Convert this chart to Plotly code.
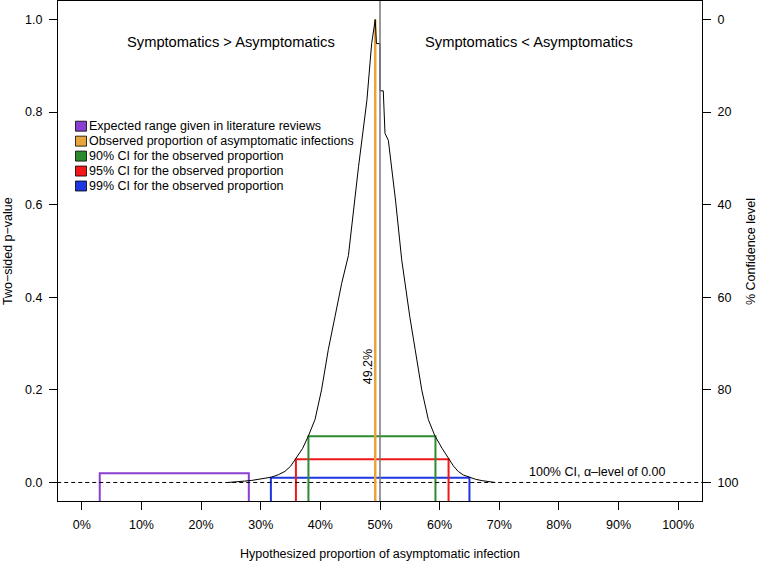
import plotly.graph_objects as go

# ---- data ----
hyp_pct = [24.5, 26.0, 27.3, 28.5, 29.6, 30.8, 31.8, 33.0, 34.06, 35.0, 35.9, 37.0, 37.97, 39.1,
           40.2, 41.33, 42.45, 43.57, 44.7, 46.4, 47.8, 48.6, 49.2, 49.4, 50.0, 50.0, 50.55,
           50.84, 51.4, 52.6, 53.64, 54.2, 55.0, 55.9, 57.0, 58.1, 59.2, 60.4, 61.5, 62.3,
           63.1, 64.0, 65.0, 66.0, 67.1, 68.2, 69.3]
p_value = [0.0, 0.001, 0.003, 0.0045, 0.0065, 0.009, 0.0115, 0.017, 0.024, 0.035, 0.051, 0.073,
           0.100, 0.136, 0.200, 0.287, 0.358, 0.430, 0.49, 0.682, 0.825, 0.948, 1.0, 0.948,
           0.948, 0.846, 0.846, 0.754, 0.739, 0.61, 0.481, 0.430, 0.358, 0.287, 0.200, 0.136,
           0.101, 0.074, 0.051, 0.036, 0.024, 0.016, 0.0115, 0.007, 0.004, 0.0015, 0.0]

observed_pct = 49.2
null_pct = 50.0

lit_range = [3.0, 28.0]
lit_height = 0.02

ci_names = ["90% CI for the observed proportion", "95% CI for the observed proportion",
            "99% CI for the observed proportion"]
ci_lower = [38.0, 35.9, 31.7]
ci_upper = [59.3, 61.5, 65.0]
ci_alpha = [0.10, 0.05, 0.01]

legend_labels = ["Expected range given in literature reviews",
                 "Observed proportion of asymptomatic infections",
                 "90% CI for the observed proportion",
                 "95% CI for the observed proportion",
                 "99% CI for the observed proportion"]

x_ticks = [0, 10, 20, 30, 40, 50, 60, 70, 80, 90, 100]
x_ticklabels = [f"{v}%" for v in x_ticks]
y_ticks = [0.0, 0.2, 0.4, 0.6, 0.8, 1.0]
y2_ticks = [0, 20, 40, 60, 80, 100]

# ---- styles ----
PURPLE = "#8a3fd1"
ORANGE = "#e8a53d"
GREEN = "#2e8a2e"
RED = "#f01818"
BLUE = "#1c36e0"
ci_colors = [GREEN, RED, BLUE]
legend_colors = [PURPLE, ORANGE, GREEN, RED, BLUE]
FONT = "Liberation Sans, Arial, Helvetica, sans-serif"
FS = 12.5
FS_BIG = 14.7

W, H = 760, 562
ML, MR, MT, MB = 58, 58, 1, 61
PW, PH = W - ML - MR, H - MT - MB


def pxx(px):
    return (px - ML) / PW


def pxy(py):
    return (H - MB - py) / PH


fig = go.Figure()

YBOT = -0.2

# literature range rectangle
fig.add_trace(go.Scatter(x=[lit_range[0], lit_range[0], lit_range[1], lit_range[1]],
                         y=[YBOT, lit_height, lit_height, YBOT], mode="lines",
                         line=dict(color=PURPLE, width=2), showlegend=False, hoverinfo="skip"))

# CI rectangles (99 first so 90 on top)
for lo, hi, a, c in reversed(list(zip(ci_lower, ci_upper, ci_alpha, ci_colors))):
    fig.add_trace(go.Scatter(x=[lo, lo, hi, hi], y=[YBOT, a, a, YBOT], mode="lines",
                             line=dict(color=c, width=2), showlegend=False, hoverinfo="skip"))

# dashed zero line
fig.add_trace(go.Scatter(x=[-10, 110], y=[0, 0], mode="lines",
                         line=dict(color="black", width=1, dash="4px,3px"),
                         showlegend=False, hoverinfo="skip"))

# observed proportion line
fig.add_trace(go.Scatter(x=[observed_pct, observed_pct], y=[YBOT, 1.0], mode="lines",
                         line=dict(color=ORANGE, width=2.5), showlegend=False, hoverinfo="skip"))

# p-value curve
fig.add_trace(go.Scatter(x=hyp_pct, y=p_value, mode="lines",
                         line=dict(color="black", width=1), showlegend=False, hoverinfo="skip"))

# null line at 50%
fig.add_trace(go.Scatter(x=[null_pct, null_pct], y=[YBOT, 2], mode="lines",
                         line=dict(color="#777777", width=1.5), showlegend=False, hoverinfo="skip"))

# dummy trace for right axis
fig.add_trace(go.Scatter(x=[50], y=[50], yaxis="y2", mode="markers", marker=dict(opacity=0),
                         showlegend=False, hoverinfo="skip"))

ann = []
shapes = []

ann.append(dict(x=25, y=0.951, xref="x", yref="y", text="Symptomatics > Asymptomatics",
                showarrow=False, font=dict(size=FS_BIG, color="black")))
ann.append(dict(x=75, y=0.951, xref="x", yref="y", text="Symptomatics < Asymptomatics",
                showarrow=False, font=dict(size=FS_BIG, color="black")))
ann.append(dict(x=48.0, y=0.249, xref="x", yref="y", text=f"{observed_pct}%", textangle=-90,
                showarrow=False, font=dict(size=FS, color="black")))
ann.append(dict(x=86.4, y=0.022, xref="x", yref="y", text="100% CI, α\u2013level of 0.00",
                showarrow=False, font=dict(size=FS, color="black")))

# axis titles
ann.append(dict(x=pxx(8), y=pxy(251), xref="paper", yref="paper", text="Two\u2212sided p\u2212value",
                textangle=-90, showarrow=False, xanchor="center", yanchor="middle",
                font=dict(size=FS, color="black")))
ann.append(dict(x=pxx(751), y=pxy(251), xref="paper", yref="paper", text="% Confidence level",
                textangle=-90, showarrow=False, xanchor="center", yanchor="middle",
                font=dict(size=FS, color="black")))
ann.append(dict(x=pxx(380), y=pxy(554), xref="paper", yref="paper",
                text="Hypothesized proportion of asymptomatic infection",
                showarrow=False, xanchor="center", yanchor="middle",
                font=dict(size=FS, color="black")))

# manual legend
for i, (lab, col) in enumerate(zip(legend_labels, legend_colors)):
    cy = 126.2 + 14.95 * i
    shapes.append(dict(type="rect", xref="paper", yref="paper",
                       x0=pxx(75.5), x1=pxx(86.5), y0=pxy(cy + 5), y1=pxy(cy - 5),
                       fillcolor=col, line=dict(color="black", width=0.8)))
    ann.append(dict(x=pxx(87.0), y=pxy(cy), xref="paper", yref="paper", text=lab,
                    xanchor="left", yanchor="middle", showarrow=False,
                    font=dict(size=FS, color="black")))

fig.update_layout(
    width=W, height=H,
    margin=dict(l=ML, r=MR, t=MT, b=MB),
    paper_bgcolor="white", plot_bgcolor="white",
    font=dict(family=FONT, size=FS, color="black"),
    showlegend=False,
    xaxis=dict(range=[-4, 104], tickvals=x_ticks, ticktext=x_ticklabels, ticks="outside",
               ticklen=8, tickcolor="black", showline=True, linecolor="black", linewidth=1,
               mirror=True, showgrid=False, zeroline=False, ticklabelstandoff=4),
    yaxis=dict(range=[-0.04, 1.04], tickvals=y_ticks, tickformat=".1f", ticks="outside",
               ticklen=8, tickcolor="black", showline=True, linecolor="black", linewidth=1,
               mirror=True, showgrid=False, zeroline=False, ticklabelstandoff=4),
    yaxis2=dict(range=[104, -4], overlaying="y", side="right", tickvals=y2_ticks,
                ticks="outside", ticklen=8, tickcolor="black", showline=True,
                linecolor="black", linewidth=1, showgrid=False, zeroline=False,
                ticklabelstandoff=4),
    annotations=ann,
    shapes=shapes,
)

fig.write_html("out.html", config={"displayModeBar": False},
               post_script="document.body.style.margin='0';document.body.style.padding='0';")
